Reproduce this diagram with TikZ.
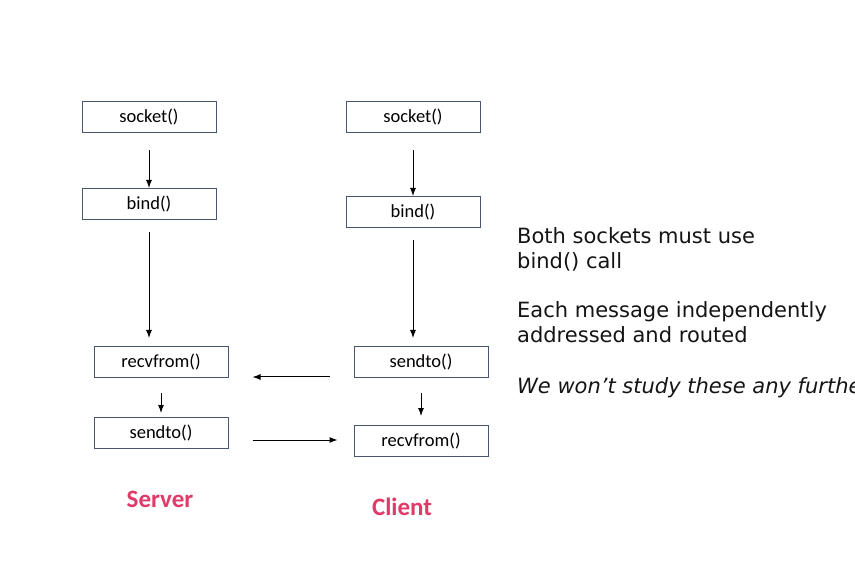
\documentclass[tikz,border=0pt]{standalone}
\usepackage{fontspec}
\setmainfont{Carlito}
\newfontfamily\notefont{DejaVu Sans}
\usepackage{xcolor}
\usetikzlibrary{arrows.meta, positioning}
\definecolor{boxedge}{RGB}{72,86,112}
\definecolor{rolered}{RGB}{224,58,104}
\tikzset{
  callbox/.style={
    draw=boxedge, line width=1pt, fill=white, align=center,
    font=\fontsize{18.5}{22}\selectfont,
    minimum width=134pt, minimum height=31pt, inner sep=0pt
  },
  callarrow/.style={
    -{Latex[length=8pt, width=6pt]}, line width=1pt, color=black
  },
  rolelabel/.style={
    font=\fontsize{25}{30}\selectfont\bfseries, text=rolered, anchor=base
  },
  notetext/.style={
    font=\notefont\fontsize{21}{25}\selectfont, align=left,
    anchor=base west, inner sep=0pt, text=black!92
  },
}

\begin{document}
\begin{tikzpicture}[x=1pt, y=-1pt]
  \useasboundingbox (0,0) rectangle (855,588);
  \clip (0,0) rectangle (855,588);

  % Server
  \node[callbox] (ssock) at (149,117.5) {socket()};
  \node[callbox] (sbind) at (149,204) {bind()};
  \node[callbox] (srecv) at (161,362) {recvfrom()};
  \node[callbox] (ssend) at (161,433) {sendto()};

  % Client
  \node[callbox] (csock) at (413,117.5) {socket()};
  \node[callbox] (cbind) at (413,212) {bind()};
  \node[callbox] (csend) at (421,362) {sendto()};
  \node[callbox] (crecv) at (421,441) {recvfrom()};

  % Call order
  \draw[callarrow, shorten <=17pt] (ssock) -- (sbind);
  \draw[callarrow, shorten <=12pt, shorten >=8pt] (sbind) -- (sbind |- srecv.north);
  \draw[callarrow, shorten <=15pt, shorten >=4pt] (srecv) -- (srecv |- ssend.north);
  \draw[callarrow, shorten <=17pt] (csock) -- (cbind);
  \draw[callarrow, shorten <=12pt, shorten >=8pt] (cbind) -- (cbind |- csend.north);
  \draw[callarrow, shorten <=15pt, shorten >=9pt] (csend) -- (csend |- crecv.north);

  % Datagrams
  \draw[callarrow, shorten <=24pt, shorten >=24pt]
    ([yshift=-15pt]csend.west) -- ([yshift=-15pt]csend.west -| srecv.east);
  \draw[callarrow, shorten <=24pt, shorten >=16pt]
    ([yshift=-7pt]ssend.east) -- ([yshift=-7pt]ssend.east -| crecv.west);

  % Labels
  \node[rolelabel] (server) at (160,507) {Server};
  \node[rolelabel] (client) at (402,515) {Client};

  % Notes (base = last line)
  \node[notetext] (bindnote) at (517,269) {Both sockets must use\\bind() call};
  \node[notetext] (routenote) at (517,343) {Each message independently\\addressed and routed};
  \node[notetext, font=\notefont\itshape\fontsize{21}{25}\selectfont]
    (skipnote) at (517,393) {We won’t study these any further};
\end{tikzpicture}
\end{document}
